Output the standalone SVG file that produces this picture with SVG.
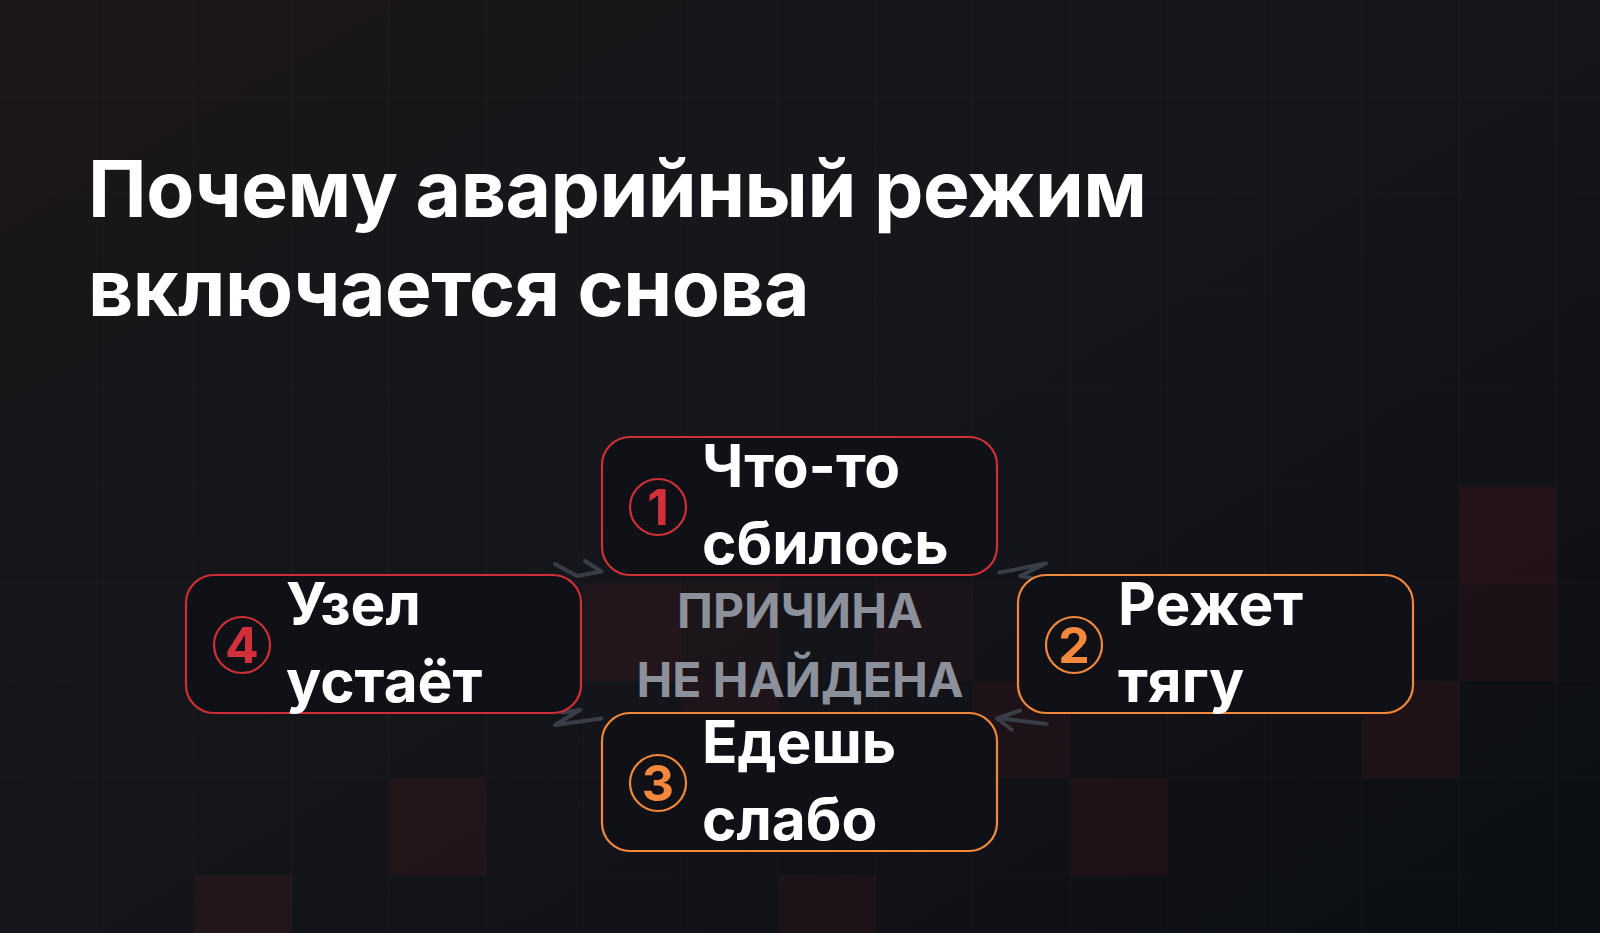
<svg xmlns="http://www.w3.org/2000/svg" width="1600" height="933" viewBox="0 0 1600 933">
  <defs>
    <linearGradient id="bg" x1="0" y1="0" x2="1" y2="1">
      <stop offset="0" stop-color="#1b1619"/>
      <stop offset="0.5" stop-color="#15161b"/>
      <stop offset="1" stop-color="#0b0e13"/>
    </linearGradient>
    <pattern id="grid" width="97.3" height="97.3" patternUnits="userSpaceOnUse">
      <path d="M97.3 0V97.3H0" fill="none" stroke="#ffffff" stroke-opacity="0.025" stroke-width="1"/>
    </pattern>
    <style>
      .title { font-family: Inter, "Liberation Sans", sans-serif; font-weight: 700; font-size: 78.5px; fill: #ffffff; letter-spacing: -0.5px; }
      .cell { fill: #7a1c22; }
      .box { fill: #0f1116; stroke-width: 2.2; }
      .red { stroke: #cf2f36; }
      .org { stroke: #f3883c; }
      .lbl { font-family: Inter, "Liberation Sans", sans-serif; font-weight: 700; font-size: 58.5px; fill: #ffffff; }
      .num { font-family: Inter, "Liberation Sans", sans-serif; font-weight: 700; font-size: 50px; text-anchor: middle; }
      .ring { fill: none; stroke-width: 2.2; }
      .center { font-family: Inter, "Liberation Sans", sans-serif; font-weight: 700; font-size: 48px; fill: #8b909b; text-anchor: middle; }
      .conn { fill: none; stroke: #383d47; stroke-width: 4; stroke-linecap: round; stroke-linejoin: round; }
    </style>
  </defs>

  <rect width="1600" height="933" fill="url(#bg)"/>
  <g id="cells">
    <rect class="cell" x="1459.5" y="486.5" width="97.3" height="97.3" opacity="0.18"/>
    <rect class="cell" x="1459.5" y="583.8" width="97.3" height="97.3" opacity="0.12"/>
    <rect class="cell" x="1362.2" y="681.1" width="97.3" height="97.3" opacity="0.16"/>
    <rect class="cell" x="973" y="681.1" width="97.3" height="97.3" opacity="0.12"/>
    <rect class="cell" x="1070.3" y="778.4" width="97.3" height="97.3" opacity="0.15"/>
    <rect class="cell" x="583.8" y="583.8" width="97.3" height="97.3" opacity="0.14"/>
    <rect class="cell" x="681.1" y="583.8" width="97.3" height="97.3" opacity="0.08"/>
    <rect class="cell" x="875.7" y="583.8" width="97.3" height="97.3" opacity="0.08"/>
    <rect class="cell" x="681.1" y="681.1" width="97.3" height="97.3" opacity="0.12"/>
    <rect class="cell" x="389.2" y="778.4" width="97.3" height="97.3" opacity="0.14"/>
    <rect class="cell" x="194.6" y="875.7" width="97.3" height="97.3" opacity="0.14"/>
    <rect class="cell" x="778.4" y="875.7" width="97.3" height="97.3" opacity="0.12"/>
  </g>
  <rect width="1600" height="933" fill="url(#grid)"/>

  <g id="title">
    <text class="title" x="88" y="217">Почему аварийный режим</text>
    <text class="title" x="88" y="316">включается снова</text>
  </g>

  <g id="connectors">
    <path class="conn" d="M555 564 L577 576 L601.5 571.5 L585 561"/>
    <path class="conn" d="M999.5 572.5 L1046 563.5 L1020 576 L1040.5 579.5"/>
    <path class="conn" d="M1046.5 724 L1001.5 718.5 M1020 710.5 L997 718.5 L1011.5 729.5"/>
    <path class="conn" d="M562 712.5 L580 710 L555 725 L601.5 718.5"/>
  </g>

  <g id="center-label">
    <text class="center" x="800" y="628">ПРИЧИНА</text>
    <text class="center" x="800" y="697">НЕ НАЙДЕНА</text>
  </g>

  <g id="node1">
    <rect class="box red" x="602" y="437" width="395" height="138" rx="28"/>
    <circle class="ring red" cx="658" cy="507" r="28"/>
    <text class="num" x="658" y="525" fill="#d1303a">1</text>
    <text class="lbl" x="702" y="487">Что-то</text>
    <text class="lbl" x="702" y="564">сбилось</text>
  </g>

  <g id="node2">
    <rect class="box org" x="1018" y="575" width="395" height="138" rx="28"/>
    <circle class="ring org" cx="1074" cy="645" r="28"/>
    <text class="num" x="1074" y="663" fill="#f3883c">2</text>
    <text class="lbl" x="1118" y="625">Режет</text>
    <text class="lbl" x="1118" y="702">тягу</text>
  </g>

  <g id="node3">
    <rect class="box org" x="602" y="713" width="395" height="138" rx="28"/>
    <circle class="ring org" cx="658" cy="783" r="28"/>
    <text class="num" x="658" y="801" fill="#f3883c">3</text>
    <text class="lbl" x="702" y="763">Едешь</text>
    <text class="lbl" x="702" y="840">слабо</text>
  </g>

  <g id="node4">
    <rect class="box red" x="186" y="575" width="395" height="138" rx="28"/>
    <circle class="ring red" cx="242" cy="645" r="28"/>
    <text class="num" x="242" y="663" fill="#d1303a">4</text>
    <text class="lbl" x="286" y="625">Узел</text>
    <text class="lbl" x="286" y="702">устаёт</text>
  </g>
</svg>
